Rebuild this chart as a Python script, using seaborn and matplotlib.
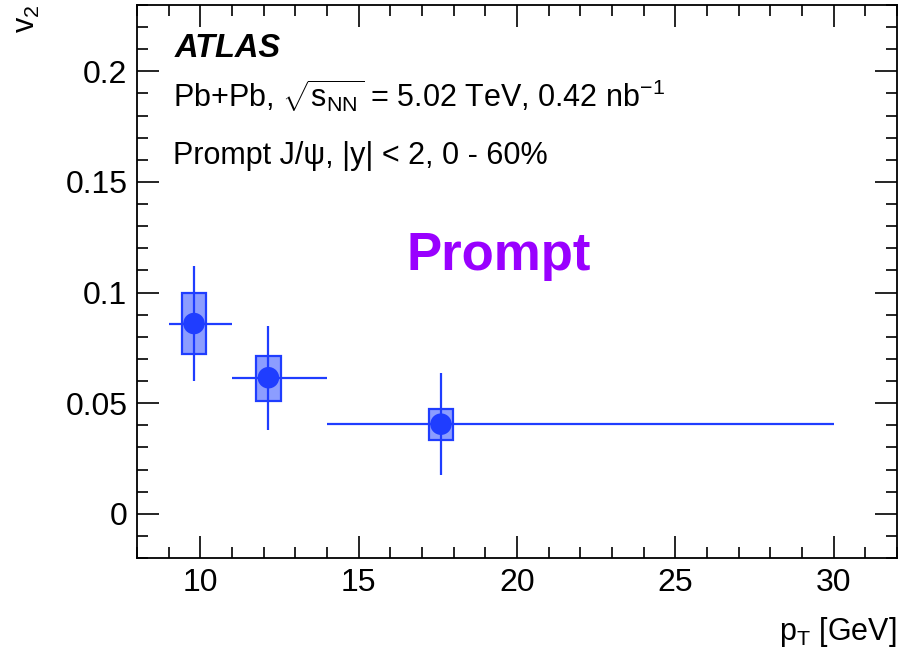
import matplotlib
matplotlib.use("Agg")
import matplotlib.pyplot as plt
import seaborn as sns
import pandas as pd
import numpy as np
from matplotlib.patches import Rectangle
from matplotlib.ticker import MultipleLocator

# Data
pt = [9.8, 12.15, 17.6]
pt_lo = [9.0, 11.0, 14.0]
pt_hi = [11.0, 14.0, 30.0]
v2 = [0.086, 0.0615, 0.0405]
stat_err = [0.026, 0.0235, 0.023]
sys_lo = [0.072, 0.051, 0.0335]
sys_hi = [0.100, 0.0715, 0.0475]
box_halfwidth = [0.37, 0.40, 0.37]
xticks = [10, 15, 20, 25, 30]
yticks = [0, 0.05, 0.1, 0.15, 0.2]
yticklabels = ['0', '0.05', '0.1', '0.15', '0.2']

df = pd.DataFrame({"pt": pt, "v2": v2})

sns.set_style("ticks")
plt.rcParams['font.family'] = ['Liberation Sans', 'DejaVu Sans']
plt.rcParams['mathtext.fontset'] = 'custom'
plt.rcParams['mathtext.rm'] = 'Liberation Sans'
plt.rcParams['mathtext.it'] = 'Liberation Sans:italic'
plt.rcParams['mathtext.bf'] = 'Liberation Sans:bold'
plt.rcParams['text.color'] = 'black'
plt.rcParams['xtick.color'] = 'black'
plt.rcParams['ytick.color'] = 'black'
plt.rcParams['xtick.labelcolor'] = 'black'
plt.rcParams['ytick.labelcolor'] = 'black'

fig = plt.figure(figsize=(9.02, 6.57), dpi=100)
ax = fig.add_axes([137/902, 1-558/657, (897-137)/902, (558-5)/657])

col = '#1f3dff'
fill = '#8c9dff'

for i in range(len(pt)):
    hw = box_halfwidth[i]
    ax.add_patch(Rectangle((pt[i]-hw, sys_lo[i]), 2*hw, sys_hi[i]-sys_lo[i],
                           facecolor=fill, edgecolor=col, lw=1.6, zorder=2))

xerr = [np.array(pt)-np.array(pt_lo), np.array(pt_hi)-np.array(pt)]
ax.errorbar(pt, v2, xerr=xerr, yerr=stat_err, fmt='none', ecolor=col,
            elinewidth=1.6, capsize=0, zorder=3)
sns.scatterplot(data=df, x="pt", y="v2", ax=ax, color=col, s=240,
                edgecolor='none', zorder=4, legend=False)

ax.set_xlim(8, 32)
ax.set_ylim(-0.02, 0.23)
ax.xaxis.set_minor_locator(MultipleLocator(1))
ax.yaxis.set_minor_locator(MultipleLocator(0.01))
ax.set_xticks(xticks)
ax.set_xticklabels([str(t) for t in xticks])
ax.set_yticks(yticks)
ax.set_yticklabels(yticklabels)
ax.tick_params(which='both', direction='in', top=True, right=True, labelsize=23, width=1.2, color='black')
ax.tick_params(which='major', length=16, pad=7)
ax.tick_params(which='minor', length=8)
for s in ax.spines.values():
    s.set_linewidth(1.3)
    s.set_color('black')
ax.set_xlabel('')
ax.set_ylabel('')

def fig_px(x, y):
    return (x/902, 1-y/657)

fig.text(897/902, 1-640/657, r'p$_{\rm T}$ [GeV]', ha='right', va='baseline', fontsize=22)
fig.text(12/902, 1-5/657, r'v$_{2}$', ha='left', va='top', fontsize=22, rotation=90)

fig.text(*fig_px(175, 57), 'ATLAS', fontsize=23.5, fontweight='bold', style='italic', va='baseline')
fig.text(*fig_px(173, 107), r'Pb+Pb, $\sqrt{\mathrm{s}_{\mathrm{NN}}}$ = 5.02 TeV, 0.42 nb$^{\mathrm{-1}}$', fontsize=22, va='baseline')
fig.text(*fig_px(173, 164), 'Prompt J/ψ, |y| < 2, 0 - 60%', fontsize=22, va='baseline')
fig.text(*fig_px(407, 270), 'Prompt', fontsize=38, fontweight='bold', color='#9900ff', va='baseline')

fig.savefig('out.png', dpi=100)
